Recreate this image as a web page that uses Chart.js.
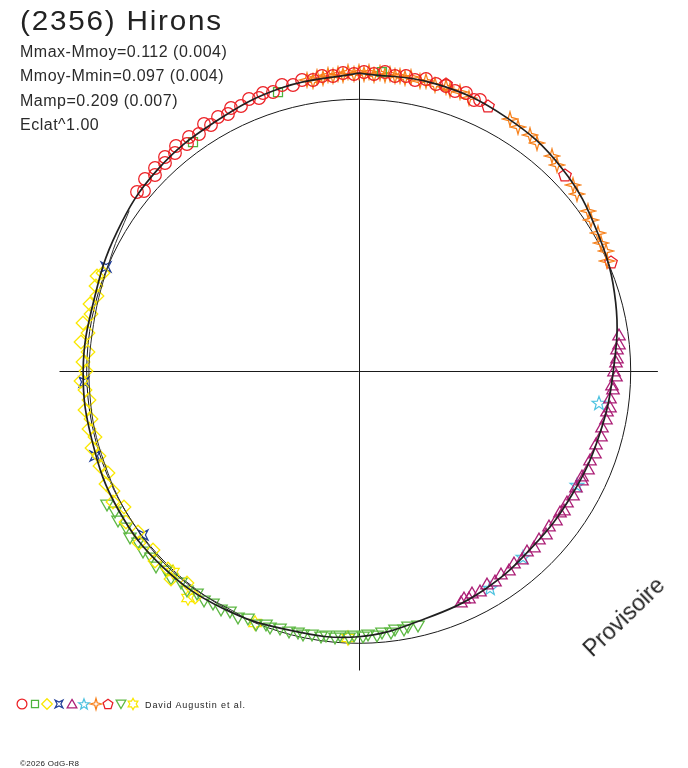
<!DOCTYPE html>
<html>
<head>
<meta charset="utf-8">
<title>(2356) Hirons</title>
<script src="https://cdn.jsdelivr.net/npm/chart.js@4.4.0/dist/chart.umd.min.js"></script>
<style>
  html, body { margin: 0; padding: 0; background: #fff; }
  #wrap { position: relative; width: 688px; height: 768px; overflow: hidden;
          font-family: "Liberation Sans", Arial, sans-serif; color: #222; }
  #c { position: absolute; left: 0; top: 0; }
  .t { position: absolute; white-space: nowrap; }
</style>
</head>
<body>
<div id="wrap">
  <canvas id="c" width="688" height="768"></canvas>
  <div class="t" style="left:20px;top:8px;font-size:27px;line-height:27px;letter-spacing:1.6px;transform:scaleX(1.1);transform-origin:0 0">(2356) Hirons</div>
  <div class="t" style="left:20px;top:43.5px;font-size:16px;line-height:16px;letter-spacing:0.5px;color:#2a2a2a">Mmax-Mmoy=0.112 (0.004)</div>
  <div class="t" style="left:20px;top:68px;font-size:16px;line-height:16px;letter-spacing:0.5px;color:#2a2a2a">Mmoy-Mmin=0.097 (0.004)</div>
  <div class="t" style="left:20px;top:92.5px;font-size:16px;line-height:16px;letter-spacing:0.5px;color:#2a2a2a">Mamp=0.209 (0.007)</div>
  <div class="t" style="left:20px;top:116.5px;font-size:16px;line-height:16px;letter-spacing:0.5px;color:#2a2a2a">Eclat^1.00</div>
  <div class="t" style="left:145px;top:700.5px;font-size:9px;line-height:9px;letter-spacing:0.9px">David Augustin et al.</div>
  <div class="t" style="left:20px;top:760px;font-size:8px;line-height:8px;letter-spacing:0.3px">©2026 OdG-R8</div>
  <div class="t" style="left:624px;top:617px;font-size:23px;line-height:23px;transform:translate(-50%,-50%) rotate(-44deg)">Provisoire</div>
</div>
<script>
// angles are rotation phase in degrees (clockwise from top), radii are relative to the reference circle

// session 1 - red circles
const s1Angle = [309, 310, 312, 314, 315, 317, 318, 320, 321, 323, 324, 326, 328, 329, 331, 333, 334, 336, 338, 340, 341, 343,
  345, 347, 349, 351, 353, 355, 357, 359, 1, 3, 5, 7, 9, 11, 13, 15, 17, 19, 21, 23, 24];
const s1Rad = [1.050, 1.032, 1.055, 1.040, 1.058, 1.045, 1.062, 1.050, 1.066, 1.048, 1.064, 1.052, 1.070, 1.055, 1.068, 1.060,
  1.075, 1.066, 1.078, 1.070, 1.082, 1.075, 1.088, 1.080, 1.092, 1.085, 1.094, 1.088, 1.100, 1.092, 1.102, 1.094, 1.104,
  1.092, 1.100, 1.090, 1.102, 1.092, 1.098, 1.088, 1.096, 1.084, 1.092];

// session 2 - green squares
const s2Angle = [324.1, 343.9, 4.5];
const s2Rad = [1.040, 1.069, 1.104];

// session 3 - yellow diamonds
const s3Angle = [216, 219, 222, 224, 227, 229, 232, 234, 237, 240, 242, 244, 246, 248, 250, 252, 254, 256, 258, 260, 262, 264,
  266, 268, 270, 272, 274, 276, 278, 280, 282, 284, 286, 288, 290, 291];
const s3Rad = [1.026, 1.002, 1.030, 1.008, 1.022, 1.000, 1.026, 1.004, 1.020, 0.998, 1.024, 1.006, 1.018, 0.996, 1.014, 1.002,
  1.020, 0.998, 1.012, 1.000, 1.016, 0.996, 1.010, 1.020, 1.002, 1.014, 0.998, 1.026, 1.004, 1.030, 1.008, 1.020, 1.002,
  1.016, 1.024, 1.008];

// session 4 - blue
const s4Angle = [232.8, 252.1, 267.7, 292.5];
const s4Rad = [0.996, 1.018, 1.012, 1.006];

// session 5 - purple triangles
const s5Angle = [82, 84, 85, 87, 88, 90, 91, 93, 94, 96, 98, 99, 101, 103, 105, 107, 109, 111, 113, 115, 116, 118, 120, 122,
  124, 125, 127, 129, 131, 133, 135, 137, 139, 141, 143, 145, 147, 149, 151, 153, 154, 155, 156];
const s5Rad = [0.968, 0.962, 0.955, 0.952, 0.945, 0.940, 0.946, 0.934, 0.938, 0.928, 0.932, 0.924, 0.928, 0.918, 0.922, 0.914,
  0.918, 0.910, 0.915, 0.907, 0.913, 0.905, 0.911, 0.904, 0.910, 0.903, 0.909, 0.902, 0.910, 0.904, 0.911, 0.905, 0.913,
  0.907, 0.916, 0.910, 0.920, 0.913, 0.922, 0.915, 0.926, 0.918, 0.928];

// session 6 - cyan stars
const s6Angle = [97.5, 117.5, 138.5, 148.8];
const s6Rad = [0.891, 0.905, 0.912, 0.933];

// session 7 - orange 4-point stars
const s7Angle = [350, 351, 352, 353, 354, 355, 356, 357, 358, 359, 0, 1, 2, 3, 4, 5, 6, 7, 8, 9, 10, 12, 13, 15, 17, 18, 20,
  22, 31, 33, 36, 38, 42, 44, 49, 51, 55, 57, 60, 62, 64, 66];
const s7Rad = [1.088, 1.082, 1.092, 1.086, 1.094, 1.088, 1.097, 1.090, 1.100, 1.093, 1.101, 1.094, 1.100, 1.092, 1.099, 1.093,
  1.100, 1.092, 1.098, 1.091, 1.097, 1.090, 1.096, 1.088, 1.094, 1.086, 1.091, 1.084, 1.082, 1.072, 1.074, 1.064, 1.064,
  1.052, 1.046, 1.034, 1.030, 1.020, 1.018, 1.008, 1.010, 1.000];

// session 8 - red pentagons
const s8Angle = [17, 26, 46.4, 66.6];
const s8Rad = [1.104, 1.085, 1.047, 1.011];

// session 9 - green down triangles
const s9Angle = [167, 169, 170, 172, 173, 175, 176, 178, 179, 181, 182, 184, 185, 187, 188, 190, 192, 193, 195, 197, 199, 200,
  202, 204, 206, 208, 210, 212, 214, 216, 218, 220, 222, 224, 226, 228, 230, 232, 234, 236, 238, 240, 242];
const s9Rad = [0.962, 0.958, 0.966, 0.962, 0.970, 0.966, 0.974, 0.970, 0.978, 0.974, 0.982, 0.977, 0.984, 0.980, 0.988, 0.984,
  0.992, 0.986, 0.994, 0.990, 1.000, 0.994, 1.004, 0.998, 1.010, 1.004, 1.015, 1.008, 1.020, 1.012, 1.026, 1.018, 1.030,
  1.022, 1.034, 1.026, 1.036, 1.028, 1.040, 1.032, 1.042, 1.034, 1.046];

// session 10 - yellow 6-point stars
const s10Angle = [182.3, 202.4, 216.9, 222.8];
const s10Rad = [0.981, 1.001, 1.043, 1.005];

// fitted model curve
const modelAngle = [0, 15, 30, 45, 60, 75, 90, 105, 120, 135, 150, 165, 180, 195, 210, 225, 240, 255, 270, 285, 300, 315, 330, 345, 360];
const modelRad = [1.096, 1.094, 1.080, 1.056, 1.015, 0.978, 0.936, 0.915, 0.906, 0.908, 0.926, 0.942, 0.976, 0.985, 1.005,
  1.018, 1.020, 1.013, 1.013, 1.008, 1.026, 1.047, 1.058, 1.080, 1.096];
// second model trace, visible on the left side
const model2Angle = [205, 220, 235, 250, 265, 280, 295, 305];
const model2Rad = [0.998, 1.004, 1.000, 0.994, 0.992, 0.990, 1.004, 1.030];

const refRadius = 1;
const axisReach = 1.1;

// page geometry: centre of the plot and pixels per unit
const CX = 358.7, CY = 371.3, PX = 272;

function polar(angles, radii) {
  return angles.map((a, i) => {
    const t = a * Math.PI / 180;
    return { x: radii[i] * Math.sin(t), y: radii[i] * Math.cos(t) };
  });
}

// outline marker drawn into a small canvas, used as pointStyle
function marker(kind, color, k) {
  const size = 18, m = 9;
  const c = document.createElement('canvas');
  c.width = size; c.height = size;
  const g = c.getContext('2d');
  g.strokeStyle = color;
  g.lineWidth = 1.25;
  g.beginPath();
  const star = (n, ro, ri, rot, dy) => {
    for (let j = 0; j < 2 * n; j++) {
      const r = (j % 2 ? ri : ro) * k;
      const a = rot + j * Math.PI / n;
      const x = m + r * Math.sin(a), y = m + (dy || 0) * k - r * Math.cos(a);
      j ? g.lineTo(x, y) : g.moveTo(x, y);
    }
    g.closePath();
  };
  const poly = (n, r0, rot, dy) => {
    const r = r0 * k;
    for (let j = 0; j < n; j++) {
      const a = rot + j * 2 * Math.PI / n;
      const x = m + r * Math.sin(a), y = m + (dy || 0) * k - r * Math.cos(a);
      j ? g.lineTo(x, y) : g.moveTo(x, y);
    }
    g.closePath();
  };
  if (kind === 'circle') g.arc(m, m, 6.3 * k, 0, Math.PI * 2);
  if (kind === 'square') g.rect(m - 4.5 * k, m - 4.5 * k, 9 * k, 9 * k);
  if (kind === 'diamond') poly(4, 6.8, 0);
  if (kind === 'xstar') star(4, 7, 2.4, Math.PI / 4);
  if (kind === 'triangle') poly(3, 7.2, 0, 1.3);
  if (kind === 'star5') star(5, 7.2, 3.0, 0, 0.6);
  if (kind === 'star4') star(4, 7.2, 2.2, 0);
  if (kind === 'pentagon') poly(5, 6.6, 0, 0.5);
  if (kind === 'downtri') poly(3, 7.2, Math.PI, -1.3);
  if (kind === 'star6') star(6, 7.2, 4.1, 0);
  g.stroke();
  return c;
}

const sessions = [
  { a: s1Angle, r: s1Rad, kind: 'circle', color: '#ec2025' },
  { a: s2Angle, r: s2Rad, kind: 'square', color: '#4cb43c' },
  { a: s3Angle, r: s3Rad, kind: 'diamond', color: '#fae800' },
  { a: s4Angle, r: s4Rad, kind: 'xstar', color: '#223f98' },
  { a: s5Angle, r: s5Rad, kind: 'triangle', color: '#ac1f76' },
  { a: s6Angle, r: s6Rad, kind: 'star5', color: '#4fc3e0' },
  { a: s7Angle, r: s7Rad, kind: 'star4', color: '#f7801a' },
  { a: s8Angle, r: s8Rad, kind: 'pentagon', color: '#e81e26' },
  { a: s9Angle, r: s9Rad, kind: 'downtri', color: '#5db843' },
  { a: s10Angle, r: s10Rad, kind: 'star6', color: '#fae800' },
];
sessions.forEach(s => {
  s.m = marker(s.kind, s.color, 1);
  s.legend = marker(s.kind, s.color, 0.78);
});

const datasets = [{
  data: polar(modelAngle, modelRad),
  showLine: true,
  borderColor: '#202020',
  borderWidth: 1.7,
  tension: 0.4,
  pointRadius: 0,
  order: 0
}, {
  data: polar(model2Angle, model2Rad),
  showLine: true,
  borderColor: '#303030',
  borderWidth: 1,
  tension: 0.4,
  pointRadius: 0,
  order: 0
}];
sessions.forEach((s, i) => {
  datasets.push({
    data: polar(s.a, s.r),
    pointStyle: s.m,
    pointRadius: 6,
    order: i + 1
  });
});

const axesAndCircle = {
  id: 'axesAndCircle',
  beforeDatasetsDraw(chart) {
    const { ctx, scales: { x, y } } = chart;
    const cx = x.getPixelForValue(0), cy = y.getPixelForValue(0);
    ctx.save();
    ctx.strokeStyle = '#1a1a1a';
    ctx.lineWidth = 1;
    ctx.beginPath();
    ctx.moveTo(x.getPixelForValue(-axisReach), Math.round(cy) + 0.5);
    ctx.lineTo(x.getPixelForValue(axisReach), Math.round(cy) + 0.5);
    ctx.moveTo(Math.round(cx) + 0.5, y.getPixelForValue(axisReach));
    ctx.lineTo(Math.round(cx) + 0.5, y.getPixelForValue(-axisReach));
    ctx.stroke();
    ctx.beginPath();
    ctx.arc(cx, cy, x.getPixelForValue(refRadius) - cx, 0, Math.PI * 2);
    ctx.stroke();
    ctx.restore();
    ctx.imageSmoothingEnabled = false;
  },
  afterDraw(chart) {
    const ctx = chart.ctx;
    ctx.imageSmoothingEnabled = false;
    sessions.forEach((s, i) => {
      const px = Math.round(22.3 + i * 12.3), py = 704;
      ctx.drawImage(s.legend, px - s.legend.width / 2, py - s.legend.height / 2);
    });
  }
};

new Chart(document.getElementById('c'), {
  type: 'scatter',
  data: { datasets },
  options: {
    responsive: false,
    animation: false,
    events: [],
    layout: { padding: 0, autoPadding: false },
    plugins: { legend: { display: false }, tooltip: { enabled: false }, title: { display: false } },
    scales: {
      x: { type: 'linear', display: false, min: -CX / PX, max: (688 - CX) / PX },
      y: { type: 'linear', display: false, min: -(768 - CY) / PX, max: CY / PX }
    }
  },
  plugins: [axesAndCircle]
});
</script>
</body>
</html>
